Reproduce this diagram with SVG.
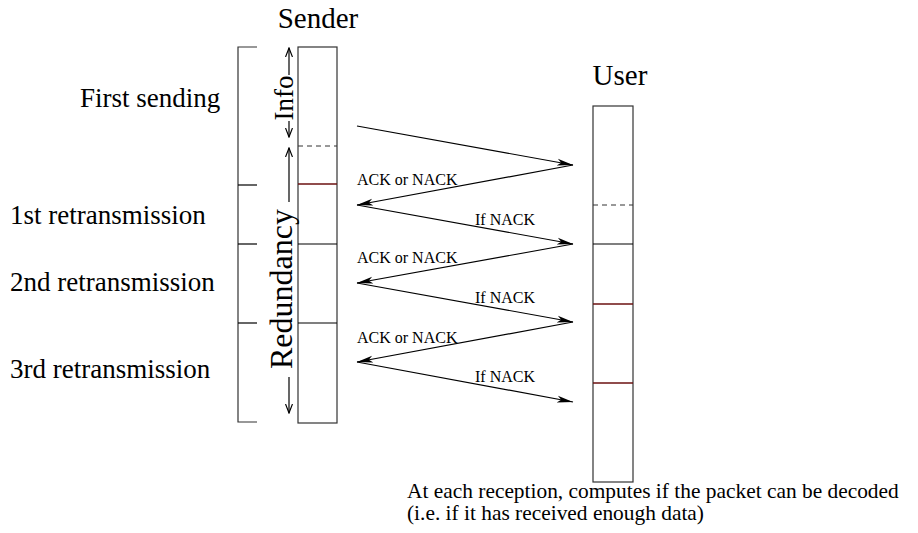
<svg xmlns="http://www.w3.org/2000/svg" width="918" height="533" viewBox="0 0 918 533">
<style>
text{font-family:"Liberation Serif","Times New Roman",serif;fill:#000}
.big{font-size:27px}
.title{font-size:29px}
.small{font-size:16px}
.note{font-size:21.4px}
.box{fill:none;stroke:#333;stroke-width:1.2}
.sep{stroke:#000;stroke-width:1.2}
.red{stroke:#6b1010;stroke-width:1.4}
.dash{stroke:#333;stroke-width:1;stroke-dasharray:5,4}
.msg{stroke:#000;stroke-width:1.2;fill:none;marker-end:url(#ah)}
.dim{stroke:#000;stroke-width:1.2;fill:none;marker-end:url(#oh)}
</style>
<defs>
<marker id="ah" markerUnits="userSpaceOnUse" markerWidth="17" markerHeight="9" refX="16" refY="4.5" orient="auto">
<path d="M0,1 L16,4.5 L0,8 L4,4.5 z" fill="#000"/>
</marker>
<marker id="oh" markerUnits="userSpaceOnUse" markerWidth="10" markerHeight="8" refX="9" refY="4" orient="auto">
<path d="M0,0.5 L9,4 L0,7.5" fill="none" stroke="#000" stroke-width="1.2"/>
</marker>
</defs>
<rect width="918" height="533" fill="#fff"/>

<g id="labels">
<text class="big" x="80" y="107">First sending</text>
<text class="big" x="10" y="224">1st retransmission</text>
<text class="big" x="10" y="291">2nd retransmission</text>
<text class="big" x="10" y="378">3rd retransmission</text>
</g>

<g id="bracket">
<path class="box" d="M257,47 H238 V422 H257"/>
<line class="sep" x1="238" y1="185" x2="257" y2="185"/>
<line class="sep" x1="238" y1="244" x2="257" y2="244"/>
<line class="sep" x1="238" y1="323" x2="257" y2="323"/>
</g>

<g id="sender">
<text class="title" x="318" y="28" text-anchor="middle">Sender</text>
<rect class="box" x="298" y="47" width="39" height="376"/>
<line class="dash" x1="298" y1="146" x2="337" y2="146"/>
<line class="red" x1="298" y1="184" x2="337" y2="184"/>
<line class="sep" x1="298" y1="244" x2="337" y2="244"/>
<line class="sep" x1="298" y1="323" x2="337" y2="323"/>
</g>

<g id="info">
<line class="dim" x1="289" y1="75" x2="289" y2="48"/>
<line class="dim" x1="289" y1="121" x2="289" y2="137"/>
<text class="big" transform="translate(293,98) rotate(-90)" text-anchor="middle">Info</text>
</g>

<g id="redundancy">
<line class="dim" x1="289" y1="202" x2="289" y2="148"/>
<line class="dim" x1="289" y1="377" x2="289" y2="413"/>
<text class="title" transform="translate(292,289) rotate(-90)" text-anchor="middle" style="font-size:32px">Redundancy</text>
</g>

<g id="user">
<text class="title" x="620" y="85" text-anchor="middle">User</text>
<rect class="box" x="593" y="106" width="40" height="376"/>
<line class="dash" x1="593" y1="205" x2="633" y2="205"/>
<line class="sep" x1="593" y1="244" x2="633" y2="244"/>
<line class="red" x1="593" y1="304" x2="633" y2="304"/>
<line class="red" x1="593" y1="383" x2="633" y2="383"/>
</g>

<g id="connectors">
<line class="msg" x1="357" y1="126" x2="573" y2="165"/>
<line class="msg" x1="573" y1="165" x2="357" y2="205"/>
<line class="msg" x1="357" y1="205" x2="573" y2="244"/>
<line class="msg" x1="573" y1="244" x2="357" y2="283"/>
<line class="msg" x1="357" y1="283" x2="573" y2="322"/>
<line class="msg" x1="573" y1="322" x2="357" y2="362"/>
<line class="msg" x1="357" y1="362" x2="573" y2="402"/>
<text class="small" x="357" y="185">ACK or NACK</text>
<text class="small" x="357" y="263">ACK or NACK</text>
<text class="small" x="357" y="343">ACK or NACK</text>
<text class="small" x="475" y="225">If NACK</text>
<text class="small" x="475" y="303">If NACK</text>
<text class="small" x="475" y="382">If NACK</text>
</g>

<g id="note">
<text class="note" x="407" y="498">At each reception, computes if the packet can be decoded</text>
<text class="note" x="407" y="520">(i.e. if it has received enough data)</text>
</g>
</svg>
